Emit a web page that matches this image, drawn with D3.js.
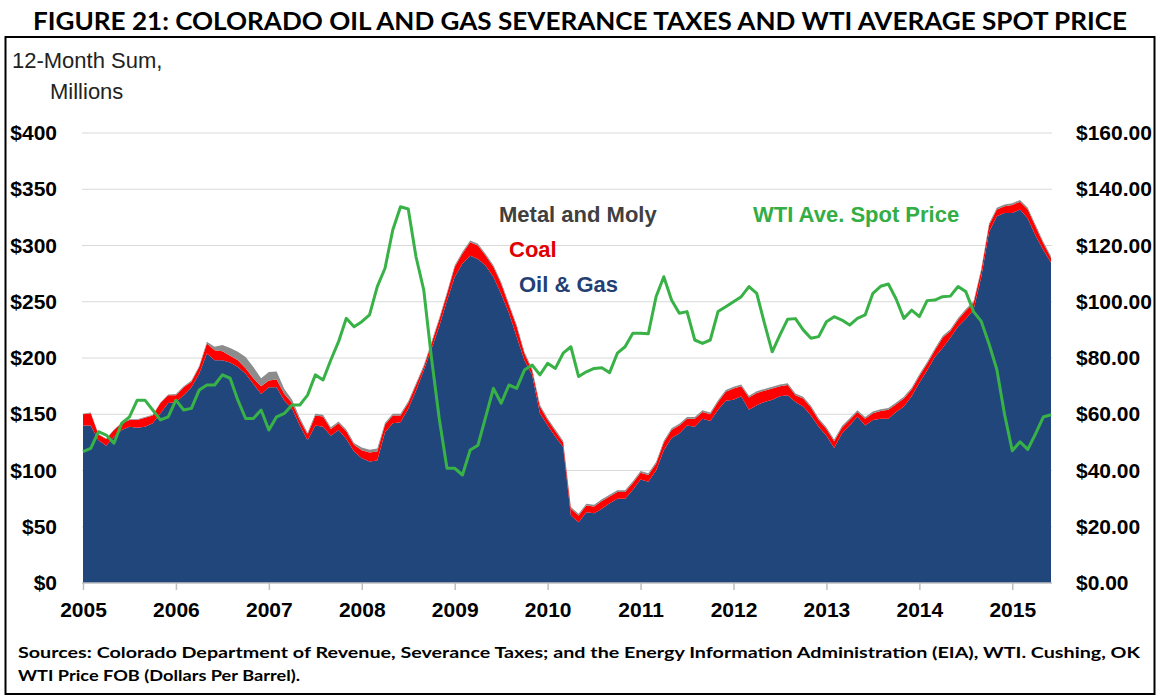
<!DOCTYPE html>
<html><head><meta charset="utf-8">
<script src="https://cdn.jsdelivr.net/npm/d3@7"></script>
<style>body{margin:0;background:#fff} svg{display:block}</style>
</head><body><svg id="c" width="1159" height="700"></svg>
<script>
// Monthly data Jan 2005 – Jun 2015 (12-month sums, $ millions)
const yearLabels = ["2005","2006","2007","2008","2009","2010","2011","2012","2013","2014","2015"];
const leftTicks = [0,50,100,150,200,250,300,350,400];
const rightTicks = [0,20,40,60,80,100,120,140,160];

const oilGas = [
140,140,127,122,130,136,139,138,139,142,151,160,
161,167,174,186,204,198,198,196,192,186,177,168,
174,174,162,155,140,127,140,139,131,136,128,117,
111,108,109,134,142,143,155,171,189,208,228,251,
272,284,291,288,282,272,257,240,219,198,185,151,
140,130,121,60,54,63,62,66,71,75,75,83,
92,90,100,118,129,133,140,139,146,144,154,162,
163,166,154,158,161,163,166,167,161,157,149,139,
131,120,133,140,148,140,145,146,146,152,157,166,
178,189,201,209,218,228,235,243,272,312,326,329,
329,332,324,309,296,285];

const coal = [
10,11,5,6,6,6,6,7,8,7,9,7,
6,7,5,6,9,9,8,6,6,5,5,7,
6,7,6,5,5,5,9,9,6,6,7,6,
7,8,8,7,7,6,5,5,3,5,6,6,
9,9,12,12,9,9,9,7,9,6,4,6,
5,5,4,6,6,6,6,7,6,6,6,6,
6,6,6,7,7,7,6,7,6,6,7,8,
10,9,11,11,10,10,9,9,6,7,7,6,
6,6,5,5,4,6,6,7,8,7,7,6,
6,6,6,9,6,6,7,6,6,6,6,6,
7,7,8,8,6,4];

const metal = [
0.5,0.5,0.5,0.5,0.5,0.5,0.5,0.5,0.5,0.5,0.5,0.5,
1,1,1,1,1.5,3,5.5,7,7.5,10,10,7,
7.5,7,4.5,3,2,1.5,1.5,1.5,1.5,1.5,1.5,1.5,
2.5,2.5,2.5,1.5,1.5,1.5,1.5,1.5,1.5,1.5,1.5,1.5,
1.5,1.5,1.5,1.5,1.5,1.5,1.5,1.5,1.5,1.5,1.5,1.5,
1.5,1.5,1.5,1.5,1.5,1.5,1.5,1.5,1.5,1.5,1.5,1.5,
1.5,1.5,1.5,1.5,1.5,1.5,1.5,1.5,1.5,1.5,1.5,1.5,
1.5,1.5,1.5,1.5,1.5,1.5,1.5,1.5,1.5,1.5,1.5,1.5,
1.5,1.5,1.5,1.5,1.5,1.5,1.5,1.5,1.5,1.5,1.5,1.5,
1.5,1.5,1.5,1.5,1.5,1.5,1.5,1.5,1.5,1.5,1.5,1.5,
1.5,1.5,1.5,1.5,1.5,1.5];

// WTI average spot price, $ per barrel
const wti = [
46.7,47.9,53.8,52.6,49.7,56.8,59.1,65.0,65.0,61.5,58.0,59.1,
65.0,61.5,62.1,68.6,70.4,70.4,74.0,72.8,65.0,58.5,58.5,61.5,
54.4,59.1,60.3,63.3,63.3,66.8,74.0,72.2,79.3,85.8,94.1,91.1,
92.9,95.3,105.4,111.9,125.5,133.8,133.0,116.0,104.2,80.0,58.5,40.8,
40.8,38.4,47.3,49.0,59.1,69.2,63.9,70.4,69.2,75.7,77.5,74.0,
78.1,76.3,81.7,84.0,73.4,75.1,76.3,76.5,74.8,81.7,84.0,88.8,
88.8,88.6,101.8,108.9,100.6,95.9,96.5,86.4,85.2,86.4,96.5,98.2,
100.0,101.8,105.4,103.0,92.3,82.2,88.2,93.8,94.0,90.0,87.0,87.6,
92.9,94.7,93.5,91.7,94.1,95.3,103.0,105.5,106.3,101.0,94.1,97.0,
94.7,100.4,100.6,101.8,102.0,105.4,103.6,96.5,93.0,85.0,76.0,60.0,
47.0,50.2,47.5,53.0,59.0,59.8];

const rows = oilGas.map((v,i)=>({i, oilGas:v, coal:coal[i], metal:metal[i]}));

const svg = d3.select("#c");
const x = d3.scaleLinear().domain([0, oilGas.length-1]).range([83, 1051]);
const yL = d3.scaleLinear().domain([0,400]).range([583,133]);
const yR = d3.scaleLinear().domain([0,160]).range([583,133]);

// Title
svg.append("text").attr("x",580).attr("y",30).attr("text-anchor","middle")
  .attr("font-family","Lato, 'Open Sans', sans-serif").attr("font-weight","bold")
  .attr("font-size",25.5).attr("textLength",1094).attr("lengthAdjust","spacingAndGlyphs")
  .attr("fill","#000").text("FIGURE 21: COLORADO OIL AND GAS SEVERANCE TAXES AND WTI AVERAGE SPOT PRICE");

// Frame
svg.append("rect").attr("x",5.5).attr("y",37).attr("width",1149).attr("height",657)
  .attr("fill","none").attr("stroke","#000").attr("stroke-width",2);

// Gridlines
svg.append("g").selectAll("line").data(leftTicks.filter(d=>d>0)).join("line")
  .attr("x1",82).attr("x2",1052).attr("y1",d=>yL(d)).attr("y2",d=>yL(d))
  .attr("stroke","#d9d9d9").attr("stroke-width",1.2);

// Stacked areas
const stack = d3.stack().keys(["oilGas","coal","metal"]);
const series = stack(rows);
const colors = {oilGas:"#21467b", coal:"#ff0000", metal:"#8c8c8c"};
const area = d3.area().x(d=>x(d.data.i)).y0(d=>yL(d[0])).y1(d=>yL(d[1]));
svg.append("g").selectAll("path").data(series).join("path")
  .attr("d",area).attr("fill",d=>colors[d.key]);

// WTI line
const line = d3.line().x((d,i)=>x(i)).y(d=>yR(d));
svg.append("path").datum(wti).attr("d",line).attr("fill","none")
  .attr("stroke","#38b247").attr("stroke-width",3).attr("stroke-linejoin","round");

// X axis
const xAxis = d3.axisBottom(x).tickValues(yearLabels.map((d,k)=>k*12))
  .tickFormat((d,k)=>yearLabels[k]).tickSize(7).tickPadding(12);
const gx = svg.append("g").attr("transform","translate(0,583)").call(xAxis);
gx.select(".domain").attr("stroke","#bfbfbf").attr("stroke-width",1.5).attr("d","M82,0H1052");
gx.selectAll(".tick line").attr("stroke","#bfbfbf").attr("stroke-width",1.5);
gx.selectAll(".tick text").attr("font-family","'Liberation Sans', Arial, sans-serif")
  .attr("font-weight","bold").attr("font-size",21).attr("fill","#000");

// Left axis
const yAxisL = d3.axisLeft(yL).tickValues(leftTicks).tickFormat(d=>"$"+d).tickSize(0).tickPadding(0);
const gl = svg.append("g").attr("transform","translate(57,0)").call(yAxisL);
gl.select(".domain").remove();
gl.selectAll(".tick text").attr("font-family","'Liberation Sans', Arial, sans-serif")
  .attr("font-weight","bold").attr("font-size",21).attr("fill","#000");

// Right axis
const yAxisR = d3.axisRight(yR).tickValues(rightTicks).tickFormat(d=>"$"+d3.format(".2f")(d)).tickSize(0).tickPadding(0);
const gr = svg.append("g").attr("transform","translate(1076,0)").call(yAxisR);
gr.select(".domain").remove();
gr.selectAll(".tick text").attr("font-family","'Liberation Sans', Arial, sans-serif")
  .attr("font-weight","bold").attr("font-size",21).attr("fill","#000");

// Axis unit label
const unit = svg.append("text").attr("font-family","'Liberation Sans', Arial, sans-serif")
  .attr("font-size",22).attr("fill","#222");
unit.append("tspan").attr("x",12).attr("y",68).text("12-Month Sum,");
unit.append("tspan").attr("x",50).attr("y",99).text("Millions");

// Series labels
const lab = (t,xx,yy,c)=>svg.append("text").attr("x",xx).attr("y",yy)
  .attr("font-family","'Liberation Sans', Arial, sans-serif").attr("font-weight","bold")
  .attr("font-size",22).attr("fill",c).text(t);
lab("Metal and Moly",499,222,"#404040");
lab("Coal",509,257,"#e00000");
lab("Oil & Gas",519,292,"#243f73");
lab("WTI Ave. Spot Price",753,222,"#33ad44");

// Sources
const src = (t,yy,w)=>svg.append("text").attr("x",18).attr("y",yy)
  .attr("font-family","Lato, 'Open Sans', sans-serif").attr("font-weight","bold")
  .attr("font-size",16).attr("textLength",w).attr("lengthAdjust","spacingAndGlyphs")
  .attr("fill","#000").text(t);
src("Sources: Colorado Department of Revenue, Severance Taxes; and the Energy Information Administration (EIA), WTI. Cushing, OK",658,1122);
src("WTI Price FOB (Dollars Per Barrel).",681,282);
</script></body></html>
